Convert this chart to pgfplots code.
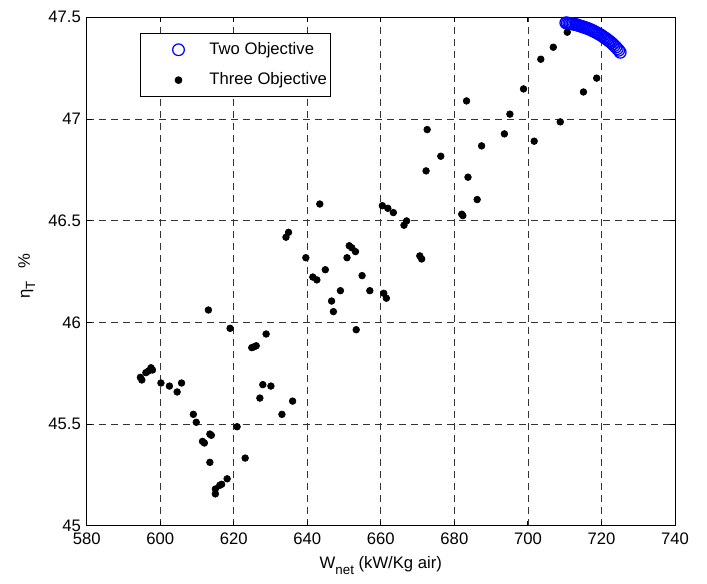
\documentclass[border=0pt]{standalone}
\usepackage{fontspec}
\setmainfont{Liberation Sans}
\usepackage{pgfplots}
\pgfplotsset{compat=1.18}

\begin{document}
\begin{tikzpicture}
\begin{axis}[
    scale only axis,
    width=352.9pt, height=305pt,
    xmin=580, xmax=740, ymin=45, ymax=47.5,
    xtick={580,600,...,740},
    ytick={45,45.5,46,46.5,47,47.5},
    tick align=inside,
    major tick length=3pt,
    grid=major,
    grid style={dash pattern=on 4.2pt off 3pt, black!80, line width=0.5pt},
    axis line style={line width=0.6pt},
    every tick/.style={black, line width=0.6pt},
    tick label style={font=\fontsize{10}{12}\selectfont},
    xticklabel style={yshift=-0.8pt},
    /pgf/number format/assume math mode=true,
    xlabel={W\raisebox{-0.6ex}{\fontsize{8}{9}\selectfont net} (kW/Kg air)},
    xlabel style={font=\fontsize{10}{12}\selectfont, at={(axis description cs:0.5,0)}, anchor=base, yshift=-25.8pt},
    ylabel={η\raisebox{-0.6ex}{\fontsize{8}{9}\selectfont T}\hspace{8pt}\%},
    ylabel style={font=\fontsize{10}{12}\selectfont, at={(axis description cs:-0.102,0.491)}, anchor=center},
    legend style={
        at={(axis description cs:0.0906,0.969)}, anchor=north west,
        draw=black, line width=0.6pt, fill=white,
        font=\fontsize{10}{12}\selectfont,
        inner xsep=0pt, inner ysep=3.3pt, row sep=5.5pt,
    },
    legend cell align=left,
    legend image code/.code={
        \path[draw=none, fill=none] (-22.8pt,0pt) (16.5pt,0pt);
        \draw[#1] plot coordinates {(0pt,0pt)};
    },
]

% Two Objective
\addplot[only marks, mark=o, mark size=3.5pt, color=blue, line width=0.75pt]
    coordinates {
    (710.3,47.473)(710.7,47.472)(711.1,47.471)(711.5,47.470)(711.9,47.468)
    (712.3,47.467)(712.7,47.465)(713.1,47.464)(713.5,47.462)(713.9,47.459)
    (714.3,47.457)(714.7,47.455)(715.1,47.452)(715.5,47.450)(715.9,47.447)
    (716.3,47.445)(716.7,47.442)(717.1,47.439)(717.5,47.435)(717.9,47.432)
    (718.3,47.428)(718.7,47.424)(719.1,47.420)(719.5,47.416)(719.9,47.412)
    (720.3,47.407)(720.7,47.402)(721.1,47.397)(721.5,47.392)(721.9,47.386)
    (722.3,47.381)(722.7,47.375)(723.1,47.368)(723.5,47.361)(723.9,47.354)
    (724.3,47.346)(724.7,47.338)(725.1,47.328)
    };
\addlegendentry{Two Objective}

% Three Objective
\addplot[only marks, mark=*, mark size=2pt, color=black]
    coordinates {
    (613.1,46.061)(619.0,45.971)(628.8,45.943)(624.9,45.876)(625.5,45.880)
    (626.1,45.885)(594.6,45.730)(595.0,45.717)(596.1,45.753)(596.8,45.761)
    (597.5,45.777)(597.9,45.766)(600.2,45.702)(602.5,45.687)(604.6,45.658)
    (605.8,45.702)(627.9,45.694)(630.1,45.687)(627.1,45.628)(636.0,45.613)
    (633.1,45.548)(609.0,45.548)(609.8,45.509)(620.9,45.487)(613.5,45.451)
    (613.9,45.445)(611.5,45.415)(612.0,45.407)(613.5,45.312)(623.1,45.333)
    (618.2,45.231)(616.7,45.204)(616.2,45.199)(615.0,45.181)(615.0,45.157)
    (634.2,46.419)(634.9,46.443)(643.4,46.582)(639.6,46.318)(641.5,46.223)
    (642.6,46.209)(644.9,46.259)(646.6,46.105)(647.1,46.053)(649.0,46.156)
    (650.8,46.318)(651.4,46.377)(652.1,46.367)(653.1,46.348)(654.9,46.230)
    (657.0,46.156)(653.3,45.964)(660.4,46.574)(661.9,46.561)(663.4,46.540)
    (666.3,46.478)(667.0,46.499)(660.8,46.143)(661.5,46.119)(670.6,46.327)
    (671.1,46.312)(672.3,46.745)(676.3,46.817)(683.7,46.714)(686.2,46.604)
    (682.0,46.532)(682.3,46.525)(683.3,47.089)(672.6,46.948)(687.4,46.868)
    (693.6,46.927)(695.1,47.024)(701.7,46.891)(698.8,47.148)(703.5,47.294)
    (706.9,47.353)(708.8,46.986)(715.1,47.133)(718.7,47.201)(710.7,47.427)
    };
\addlegendentry{Three Objective}

\end{axis}
\pgfresetboundingbox
\path ([shift={(-52pt,-34.4pt)}]current axis.south west) rectangle ([shift={(19.2pt,10.4pt)}]current axis.north east);
\end{tikzpicture}
\end{document}
